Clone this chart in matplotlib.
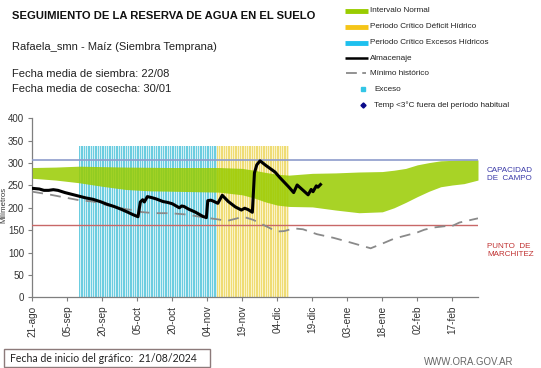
import numpy as np
import matplotlib
matplotlib.use("Agg")
import matplotlib.pyplot as plt
from matplotlib.lines import Line2D
from matplotlib.patches import Rectangle

# ---------------- data ----------------
tick_days = [0, 15, 30, 45, 60, 75, 90, 105, 120, 135, 150, 165, 180]
tick_labels = ["21-ago", "05-sep", "20-sep", "05-oct", "20-oct", "04-nov", "19-nov",
               "04-dic", "19-dic", "03-ene", "18-ene", "02-feb", "17-feb"]
y_ticks = [0, 50, 100, 150, 200, 250, 300, 350, 400]

band_days = [0, 10, 20, 30, 40, 50, 60, 70, 80, 90, 95, 100, 105, 110, 120, 130, 140,
             150, 155, 160, 165, 170, 175, 180, 185, 191]
band_top = [290, 291, 293, 292, 291, 290.5, 290, 290, 290, 288, 284, 279, 275, 273, 277,
            278, 280, 281, 284, 288, 296, 301, 305, 306, 307, 307]
band_bottom = [266, 262, 256, 248, 241, 238, 237, 236, 235, 229, 222, 213, 206, 203, 202,
               195, 189, 191, 200, 212, 225, 237, 247, 251, 254, 262]

alm_days = [0, 3, 5, 7, 9, 11, 14, 17, 20, 23, 26, 29, 32, 35, 38, 41, 43, 45.3, 46.3, 47.3,
            48, 49.3, 51, 53, 56, 58, 60, 62, 63, 64, 65, 67, 70, 73, 74.6, 75.2, 76.5, 77.5,
            79.5, 81.4, 84, 87, 89.6, 91, 92.5, 94.3, 95.2, 96.2, 97.6, 100, 104, 106, 108,
            110, 112, 113.5, 118.2, 119.5, 120.3, 121.7, 122.4, 123.5]
alm_vals = [243.5, 242, 239, 239, 240.5, 239, 234, 230, 226, 222, 219, 214, 208, 203, 197,
            190, 185, 180, 213, 218, 213, 225, 223, 220, 214, 212, 209, 203, 200, 204, 203,
            197, 190, 181, 178, 216, 217, 215, 210, 228, 214, 202, 195, 199, 196, 190, 278,
            296, 305, 295, 280, 268, 257, 246, 234, 251, 229, 241, 236, 249, 246, 252]

min_days = [0, 7, 12, 20, 26, 32, 40, 43, 46, 52, 59, 66, 73, 79.7, 83.3, 86, 90.4, 94.7,
            100.5, 104.7, 108, 112, 116, 122, 129, 136, 145, 150, 155, 160, 165, 168, 172,
            177, 179, 183, 191]
min_vals = [236, 230, 225, 217, 214, 206, 197, 195, 191, 188, 188, 185, 179, 174, 170.5,
            174, 180, 173, 158, 147, 148, 154, 152, 141, 133, 123, 109.5, 120, 131, 138, 145,
            151, 156, 159, 157, 167, 176.5]

capacidad_campo = 307
punto_marchitez = 162
exceso_start, exceso_end = 20, 79      # Periodo crítico excesos hídricos (days)
deficit_start, deficit_end = 79, 110   # Periodo crítico déficit hídrico (days)
period_top = 337
x_end = 191

# ---------------- figure ----------------
W, H = 541, 368
fig = plt.figure(figsize=(W / 100, H / 100), dpi=100)
font = "Liberation Sans"
plt.rcParams["font.family"] = [font, "DejaVu Sans"]

left_px, right_px, bottom_px, top_px = 32.3, 478.0, 297.3, 118.3
ax = fig.add_axes([left_px / W, (H - bottom_px) / H, (right_px - left_px) / W,
                   (bottom_px - top_px) / H])
ax.set_xlim(0, x_end)
ax.set_ylim(0, 400)
ax.set_facecolor("none")

# critical periods (striped bars)
ax.axvspan(exceso_start, exceso_end, ymax=period_top / 400, color="#d3f0f6", lw=0, zorder=1)
ex_days = np.arange(exceso_start, exceso_end)
ax.bar(ex_days, period_top, width=0.55, align="edge", color="#6ccde0", lw=0, zorder=1.5)
ax.axvspan(deficit_start, deficit_end, ymax=period_top / 400, color="#faf3c8", lw=0, zorder=1)
de_days = np.arange(deficit_start, deficit_end)
ax.bar(de_days, period_top, width=0.55, align="edge", color="#efdc74", lw=0, zorder=1.5)

# normal interval
ax.fill_between(band_days, band_bottom, band_top, color="#99cc00", alpha=0.85, lw=0, zorder=3)

# reference lines
ax.axhline(capacidad_campo, color="#8e9ccc", lw=1.2, zorder=4)
ax.axhline(punto_marchitez, color="#c86868", lw=1.0, zorder=4)

# series
ax.plot(min_days, min_vals, color="#8a8a8a", lw=1.3, dashes=(6, 4), zorder=5)
ax.plot(alm_days, alm_vals, color="black", lw=2.2, zorder=6, solid_joinstyle="round")

for s in ["top", "right"]:
    ax.spines[s].set_visible(False)
ax.spines["left"].set_color("#7f7f7f")
ax.spines["bottom"].set_color("#7f7f7f")
ax.spines["left"].set_linewidth(0.9)
ax.spines["bottom"].set_linewidth(0.9)

ax.set_xticks(tick_days)
ax.set_xticklabels(tick_labels, rotation=90, fontsize=7.2, color="#333333")
ax.set_yticks(y_ticks)
ax.set_yticklabels([str(v) for v in y_ticks], fontsize=7, color="#333333")
ax.tick_params(axis="both", direction="out", length=3, width=0.8, color="#7f7f7f", pad=3)
ax.set_ylabel("Milímetros", fontsize=5.6, color="#333333")
ax.yaxis.set_label_coords((7 - left_px) / (right_px - left_px), 0.515)

# ---------------- overlay for texts & legend ----------------
ov = fig.add_axes([0, 0, 1, 1], zorder=10)
ov.set_xlim(0, W)
ov.set_ylim(H, 0)
ov.axis("off")
ov.patch.set_visible(False)

ov.text(12, 16, "SEGUIMIENTO DE LA RESERVA DE AGUA EN EL SUELO", fontsize=8.1,
        fontweight="bold", va="center", ha="left", color="#111111")
ov.text(12, 46.5, "Rafaela_smn - Maíz (Siembra Temprana)", fontsize=8, va="center",
        ha="left", color="#222222")
ov.text(12, 74, "Fecha media de siembra: 22/08", fontsize=8, va="center", ha="left",
        color="#222222")
ov.text(12, 88.5, "Fecha media de cosecha: 30/01", fontsize=8, va="center", ha="left",
        color="#222222")

leg_fs = 5.9
rows = [11, 26.7, 42.7, 58.3, 73.3, 89.3, 105]
ov.add_line(Line2D([345, 368], [rows[0]] * 2, color="#99cc00", lw=3.5, solid_capstyle="butt"))
ov.add_line(Line2D([345, 368], [rows[1]] * 2, color="#f5c518", lw=3.5, solid_capstyle="butt"))
ov.add_line(Line2D([345, 368], [rows[2]] * 2, color="#1ec0ee", lw=3.5, solid_capstyle="butt"))
ov.add_line(Line2D([345, 368], [rows[3]] * 2, color="black", lw=1.8, solid_capstyle="butt"))
ov.add_line(Line2D([346, 366], [rows[4]] * 2, color="#8a8a8a", lw=1.3, dashes=(6, 3)))
ov.plot([363], [rows[5]], marker="s", ms=2.2, color="#33c6e6", lw=0)
ov.plot([363], [rows[6]], marker="D", ms=2.6, color="#0a0a8a", lw=0)
legend_texts = ["Intervalo Normal", "Periodo Crítico Déficit Hídrico",
                "Periodo Crítico Excesos Hídricos", "Almacenaje", "Mínimo histórico",
                "Exceso", "Temp <3°C fuera del período habitual"]
for i, t in enumerate(legend_texts):
    x0 = 369.5 if i < 5 else 374
    ov.text(x0, rows[i], t, fontsize=leg_fs, va="center", ha="left", color="#222222")

ov.text(487, 170, "CAPACIDAD", fontsize=5.8, color="#3a3aa8", va="center", ha="left")
ov.text(487, 179, "DE  CAMPO", fontsize=5.8, color="#3a3aa8", va="center", ha="left")
ov.text(487, 246.7, "PUNTO  DE", fontsize=5.8, color="#c03030", va="center", ha="left")
ov.text(487, 255, "MARCHITEZ", fontsize=5.8, color="#c03030", va="center", ha="left")

ov.add_patch(Rectangle((4, 349), 206, 17.5, fill=False, ec="#8c7a7a", lw=1.0))
ov.text(10, 358, "Fecha de inicio del gráfico:  21/08/2024", fontsize=7.6,
        family=["Lato", "DejaVu Sans"], va="center", ha="left", color="#222222")
ov.text(424, 362, "WWW.ORA.GOV.AR", fontsize=6.9, color="#666666", va="center", ha="left")

fig.savefig("out.png", dpi=100)
